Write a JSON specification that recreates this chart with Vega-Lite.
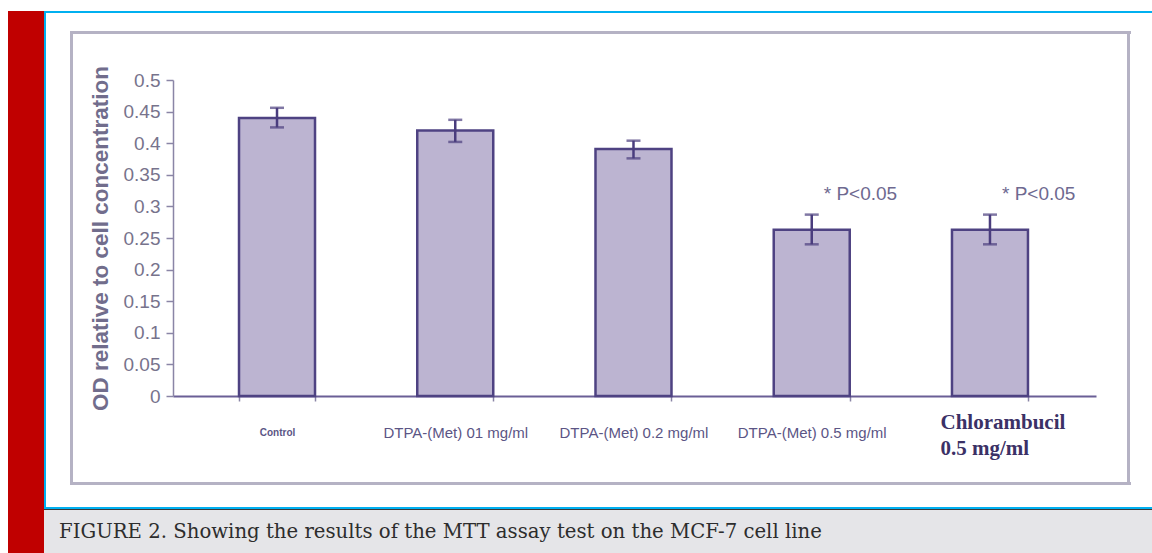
{
  "$schema": "https://vega.github.io/schema/vega-lite/v6.json",
  "padding": {"left": 8, "top": 11, "right": 0, "bottom": 0},
  "background": "white",
  "config": {"view": {"stroke": null}, "font": "Liberation Sans"},
  "hconcat": [
    {"width": 36, "height": 542, "data": {"values": []}, "mark": "point", "view": {"fill": "#c00000", "stroke": null}},
    {
      "vconcat": [
        {"width": 1108, "height": 2, "data": {"values": []}, "mark": "point", "view": {"fill": "#00b0f0", "stroke": null}},
        {
          "hconcat": [
            {"width": 2, "height": 494, "data": {"values": []}, "mark": "point", "view": {"fill": "#00b0f0", "stroke": null}},
            {"width": 24, "height": 494, "data": {"values": []}, "mark": "point"},
            {
              "vconcat": [
                {"width": 1061, "height": 18, "data": {"values": []}, "mark": "point"},
                {"width": 1061, "height": 3, "data": {"values": []}, "mark": "point", "view": {"fill": "#b5b2c4", "stroke": null}},
                {
                  "hconcat": [
                    {"width": 3, "height": 448, "data": {"values": []}, "mark": "point", "view": {"fill": "#b5b2c4", "stroke": null}},
                    {
                      "vconcat": [
                        {"width": 1, "height": 31, "data": {"values": []}, "mark": "point"},
                        {
                          "hconcat": [
                            {"width": 16, "height": 1, "data": {"values": []}, "mark": "point"},
                            {
                              "width": 923,
                              "height": 316,
                              "data": {"values": [
                                {"group": "Control", "od": 0.44, "lo": 0.425, "hi": 0.456, "note": ""},
                                {"group": "DTPA-(Met) 01 mg/ml", "od": 0.42, "lo": 0.402, "hi": 0.437, "note": ""},
                                {"group": "DTPA-(Met) 0.2 mg/ml", "od": 0.391, "lo": 0.376, "hi": 0.404, "note": ""},
                                {"group": "DTPA-(Met) 0.5 mg/ml", "od": 0.263, "lo": 0.24, "hi": 0.287, "note": "* P<0.05"},
                                {"group": "Chlorambucil 0.5 mg/ml", "od": 0.263, "lo": 0.24, "hi": 0.287, "note": "* P<0.05"}
                              ]},
                              "encoding": {
                                "x": {
                                  "field": "group",
                                  "type": "nominal",
                                  "sort": null,
                                  "scale": {"paddingInner": 0.5736, "paddingOuter": 0.376, "align": 0.4925},
                                  "axis": {
                                    "title": null,
                                    "labelAngle": 0,
                                    "tickBand": "extent",
                                    "tickSize": 5,
                                    "tickColor": "#8a85a6",
                                    "tickWidth": 1.5,
                                    "domainColor": "#6a5f96",
                                    "domainWidth": 2,
                                    "labelPadding": {"condition": {"test": "datum.value == 'Chlorambucil 0.5 mg/ml'", "value": 21}, "value": 31},
                                    "labelBaseline": "middle",
                                    "labelLineHeight": 26,
                                    "labelLimit": 300,
                                    "labelOverlap": false,
                                    "labelExpr": "datum.value == 'Chlorambucil 0.5 mg/ml' ? ['Chlorambucil', '0.5 mg/ml'] : datum.label",
                                    "labelFontSize": {"condition": [{"test": "datum.value == 'Control'", "value": 10}, {"test": "datum.value == 'Chlorambucil 0.5 mg/ml'", "value": 21}], "value": 15},
                                    "labelFont": {"condition": {"test": "datum.value == 'Chlorambucil 0.5 mg/ml'", "value": "Liberation Serif"}, "value": "Liberation Sans"},
                                    "labelFontWeight": {"condition": {"test": "datum.value == 'Chlorambucil 0.5 mg/ml' || datum.value == 'Control'", "value": "bold"}, "value": "normal"},
                                    "labelAlign": {"condition": {"test": "datum.value == 'Chlorambucil 0.5 mg/ml'", "value": "left"}, "value": "center"},
                                    "labelOffset": {"condition": {"test": "datum.value == 'Chlorambucil 0.5 mg/ml'", "value": -50}, "value": 0},
                                    "labelColor": {"condition": {"test": "datum.value == 'Chlorambucil 0.5 mg/ml'", "value": "#3b3166"}, "value": "#5b5585"}
                                  }
                                }
                              },
                              "layer": [
                                {
                                  "mark": {"type": "bar", "fill": "#bcb4d1", "stroke": "#4e4282", "strokeWidth": 2.5},
                                  "encoding": {
                                    "y": {
                                      "field": "od",
                                      "type": "quantitative",
                                      "title": "OD relative to cell concentration",
                                      "scale": {"domain": [0, 0.5], "nice": false},
                                      "axis": {"values": [0, 0.05, 0.1, 0.15, 0.2, 0.25, 0.3, 0.35, 0.4, 0.45, 0.5], "format": ".2~f", "grid": false, "labelFontSize": 19, "labelColor": "#77738c", "labelOverlap": false, "tickSize": 7, "tickColor": "#8a85a6", "tickWidth": 1.5, "domainColor": "#8a85a6", "domainWidth": 1.5, "labelPadding": 6, "titleFontSize": 22.5, "titleFontWeight": "bold", "titleColor": "#716d8c", "titlePadding": 11}
                                    }
                                  }
                                },
                                {
                                  "mark": {"type": "rule", "color": "#4a3d7e", "strokeWidth": 2.5},
                                  "encoding": {
                                    "y": {
                                      "field": "lo",
                                      "type": "quantitative",
                                      "title": "OD relative to cell concentration",
                                      "axis": {"values": [0, 0.05, 0.1, 0.15, 0.2, 0.25, 0.3, 0.35, 0.4, 0.45, 0.5], "format": ".2~f", "grid": false, "labelFontSize": 19, "labelColor": "#77738c", "labelOverlap": false, "tickSize": 7, "tickColor": "#8a85a6", "tickWidth": 1.5, "domainColor": "#8a85a6", "domainWidth": 1.5, "labelPadding": 6, "titleFontSize": 22.5, "titleFontWeight": "bold", "titleColor": "#716d8c", "titlePadding": 11}
                                    },
                                    "y2": {"field": "hi"}
                                  }
                                },
                                {
                                  "mark": {"type": "tick", "orient": "horizontal", "color": "#4a3d7e", "size": 14, "thickness": 2.5},
                                  "encoding": {
                                    "y": {
                                      "field": "lo",
                                      "type": "quantitative",
                                      "title": "OD relative to cell concentration",
                                      "axis": {"values": [0, 0.05, 0.1, 0.15, 0.2, 0.25, 0.3, 0.35, 0.4, 0.45, 0.5], "format": ".2~f", "grid": false, "labelFontSize": 19, "labelColor": "#77738c", "labelOverlap": false, "tickSize": 7, "tickColor": "#8a85a6", "tickWidth": 1.5, "domainColor": "#8a85a6", "domainWidth": 1.5, "labelPadding": 6, "titleFontSize": 22.5, "titleFontWeight": "bold", "titleColor": "#716d8c", "titlePadding": 11}
                                    }
                                  }
                                },
                                {
                                  "mark": {"type": "tick", "orient": "horizontal", "color": "#4a3d7e", "size": 14, "thickness": 2.5},
                                  "encoding": {
                                    "y": {
                                      "field": "hi",
                                      "type": "quantitative",
                                      "title": "OD relative to cell concentration",
                                      "axis": {"values": [0, 0.05, 0.1, 0.15, 0.2, 0.25, 0.3, 0.35, 0.4, 0.45, 0.5], "format": ".2~f", "grid": false, "labelFontSize": 19, "labelColor": "#77738c", "labelOverlap": false, "tickSize": 7, "tickColor": "#8a85a6", "tickWidth": 1.5, "domainColor": "#8a85a6", "domainWidth": 1.5, "labelPadding": 6, "titleFontSize": 22.5, "titleFontWeight": "bold", "titleColor": "#716d8c", "titlePadding": 11}
                                    }
                                  }
                                },
                                {
                                  "transform": [{"filter": "datum.note != ''"}],
                                  "mark": {"type": "text", "align": "left", "baseline": "middle", "dx": 12, "dy": -21, "fontSize": 19, "color": "#6e6990"},
                                  "encoding": {
                                    "y": {
                                      "field": "hi",
                                      "type": "quantitative",
                                      "title": "OD relative to cell concentration",
                                      "axis": {"values": [0, 0.05, 0.1, 0.15, 0.2, 0.25, 0.3, 0.35, 0.4, 0.45, 0.5], "format": ".2~f", "grid": false, "labelFontSize": 19, "labelColor": "#77738c", "labelOverlap": false, "tickSize": 7, "tickColor": "#8a85a6", "tickWidth": 1.5, "domainColor": "#8a85a6", "domainWidth": 1.5, "labelPadding": 6, "titleFontSize": 22.5, "titleFontWeight": "bold", "titleColor": "#716d8c", "titlePadding": 11}
                                    },
                                    "text": {"field": "note"}
                                  }
                                }
                              ]
                            }
                          ],
                          "spacing": 0,
                          "bounds": "full"
                        }
                      ],
                      "spacing": 0,
                      "bounds": "full"
                    },
                    {"width": 31, "height": 448, "data": {"values": []}, "mark": "point"},
                    {"width": 3, "height": 448, "data": {"values": []}, "mark": "point", "view": {"fill": "#b5b2c4", "stroke": null}}
                  ],
                  "spacing": 0,
                  "bounds": "full"
                },
                {"width": 1061, "height": 3, "data": {"values": []}, "mark": "point", "view": {"fill": "#b5b2c4", "stroke": null}}
              ],
              "spacing": 0,
              "bounds": "full"
            }
          ],
          "spacing": 0,
          "bounds": "full"
        },
        {"width": 1108, "height": 2, "data": {"values": []}, "mark": "point", "view": {"fill": "#00b0f0", "stroke": null}},
        {"width": 1108, "height": 1, "data": {"values": []}, "mark": "point", "view": {"fill": "#3a3a3a", "stroke": null}},
        {
          "width": 1108,
          "height": 43,
          "data": {"values": [{"caption": "FIGURE 2. Showing the results of the MTT assay test on the MCF-7 cell line"}]},
          "mark": {"type": "text", "align": "left", "baseline": "middle", "dx": 15, "font": "DejaVu Serif", "fontSize": 19.7, "color": "#2d2d2d"},
          "encoding": {
            "x": {"datum": 0, "type": "quantitative", "scale": {"domain": [0, 1]}, "axis": null},
            "y": {"datum": 0.5, "type": "quantitative", "scale": {"domain": [0, 1]}, "axis": null},
            "text": {"field": "caption"}
          },
          "view": {"fill": "#e5e5e8", "stroke": null}
        }
      ],
      "spacing": 0,
      "bounds": "full"
    }
  ],
  "spacing": 0,
  "bounds": "full"
}
